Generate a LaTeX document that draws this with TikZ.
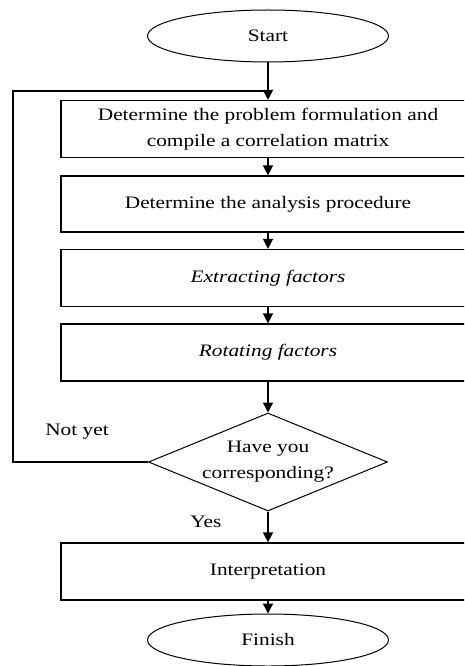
\documentclass[tikz,border=0pt]{standalone}
\usepackage{fontspec}
\setmainfont{Liberation Serif}[FakeStretch=1.22]
\usetikzlibrary{shapes.geometric,arrows.meta}
\begin{document}
\begin{tikzpicture}[x=1pt,y=-1pt,
  every node/.style={font=\fontsize{17.5}{26}\selectfont},
  line/.style={line width=1.4pt},
  arr/.style={line, -{Triangle[width=10pt,length=10pt]}},
  term/.style={draw, line width=1pt, ellipse, minimum width=241pt, minimum height=52pt, inner sep=0pt},
  stepbox/.style={draw, line width=1.2pt, rectangle, minimum width=414pt, minimum height=57pt, inner sep=0pt, align=center},
  decision/.style={draw, line width=1pt, diamond, aspect=2.44, minimum width=239pt, minimum height=98pt, inner sep=0pt, align=center}]
\useasboundingbox (0,0) rectangle (464,666);
\clip (0,0) rectangle (464,666);
\node[term] (start) at (268,36) {Start};
\node[stepbox] (b1) at (268,129) {Determine the problem formulation and\\compile a correlation matrix};
\node[stepbox, minimum height=56pt] (b2) at (268,204) {Determine the analysis procedure};
\node[stepbox] (b3) at (268,278) {\itshape Extracting factors};
\node[stepbox] (b4) at (268,352.5) {\itshape Rotating factors};
\node[decision] (dec) at (268,462) {Have you\\corresponding?};
\node[stepbox] (b5) at (268,571.5) {Interpretation};
\node[term] (fin) at (268,640) {Finish};
\coordinate (c1) at (13,462);
\coordinate (c2) at (13,91);
\coordinate (c3) at (268,91);
\node (notyet) at (77,432) {Not yet};
\node (yes) at (206,522) {Yes};
\draw[arr] (start) -- (b1);
\draw[arr] (b1) -- (b2);
\draw[arr] (b2) -- (b3);
\draw[arr] (b3) -- (b4);
\draw[arr] (b4) -- (dec);
\draw[arr] (dec) -- (b5);
\draw[arr] (b5) -- (fin);
\draw[line] (dec.west) -- (c1) -- (c2) -- (c3);
\end{tikzpicture}
\end{document}
